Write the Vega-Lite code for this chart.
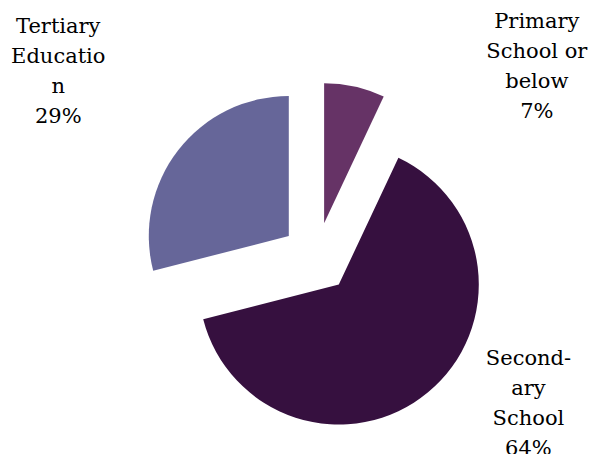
{
  "$schema": "https://vega.github.io/schema/vega-lite/v6.json",
  "width": 547,
  "height": 393,
  "padding": {"left": 43, "top": 61, "right": 0, "bottom": 0},
  "autosize": {"type": "none"},
  "background": "white",
  "config": {"view": {"stroke": null}, "text": {"font": "DejaVu Serif, serif"}},
  "data": {
    "values": [
      {"category": "Primary School or below", "label": "Primary\nSchool or\nbelow\n7%", "percent": 7},
      {"category": "Secondary School", "label": "Second-\nary\nSchool\n64%", "percent": 64},
      {"category": "Tertiary Education", "label": "Tertiary\nEducatio\nn\n29%", "percent": 29}
    ]
  },
  "transform": [{"stack": "percent", "groupby": [], "as": ["p0", "p1"]}],
  "layer": [
    {
      "transform": [{"filter": "datum.category === 'Primary School or below'"}],
      "mark": {"type": "arc", "outerRadius": 140, "xOffset": 7.6, "yOffset": -34.2},
      "encoding": {
        "theta": {"field": "p0", "type": "quantitative", "scale": {"domain": [0, 100]}},
        "theta2": {"field": "p1"},
        "color": {"field": "category", "type": "nominal", "legend": null,
          "scale": {"domain": ["Primary School or below", "Secondary School", "Tertiary Education"], "range": ["#663366", "#36103F", "#666699"]}}
      }
    },
    {
      "transform": [{"filter": "datum.category === 'Secondary School'"}],
      "mark": {"type": "arc", "outerRadius": 140, "xOffset": 22.3, "yOffset": 27.0},
      "encoding": {
        "theta": {"field": "p0", "type": "quantitative"},
        "theta2": {"field": "p1"},
        "color": {"field": "category", "type": "nominal", "legend": null}
      }
    },
    {
      "transform": [{"filter": "datum.category === 'Tertiary Education'"}],
      "mark": {"type": "arc", "outerRadius": 140, "xOffset": -27.7, "yOffset": -21.5},
      "encoding": {
        "theta": {"field": "p0", "type": "quantitative"},
        "theta2": {"field": "p1"},
        "color": {"field": "category", "type": "nominal", "legend": null}
      }
    },
    {
      "mark": {"type": "text", "radius": 272, "dx": 161, "dy": 36, "align": "center", "baseline": "alphabetic", "lineBreak": "\n", "lineHeight": 30, "font": "DejaVu Serif, serif", "fontSize": 21, "color": "#000000"},
      "encoding": {
        "theta": {"field": "percent", "type": "quantitative", "stack": true},
        "text": {"condition": {"test": "datum.category === 'Primary School or below'", "field": "label", "type": "nominal"}, "value": ""}
      }
    },
    {
      "mark": {"type": "text", "radius": 218, "dx": 73, "dy": -60, "align": "center", "baseline": "alphabetic", "lineBreak": "\n", "lineHeight": 30, "font": "DejaVu Serif, serif", "fontSize": 21, "color": "#000000"},
      "encoding": {
        "theta": {"field": "percent", "type": "quantitative", "stack": true},
        "text": {"condition": {"test": "datum.category === 'Secondary School'", "field": "label", "type": "nominal"}, "value": ""}
      }
    },
    {
      "mark": {"type": "text", "radius": 342, "dx": 12, "dy": -15, "align": "center", "baseline": "alphabetic", "lineBreak": "\n", "lineHeight": 30, "font": "DejaVu Serif, serif", "fontSize": 21, "color": "#000000"},
      "encoding": {
        "theta": {"field": "percent", "type": "quantitative", "stack": true},
        "text": {"condition": {"test": "datum.category === 'Tertiary Education'", "field": "label", "type": "nominal"}, "value": ""}
      }
    }
  ]
}
